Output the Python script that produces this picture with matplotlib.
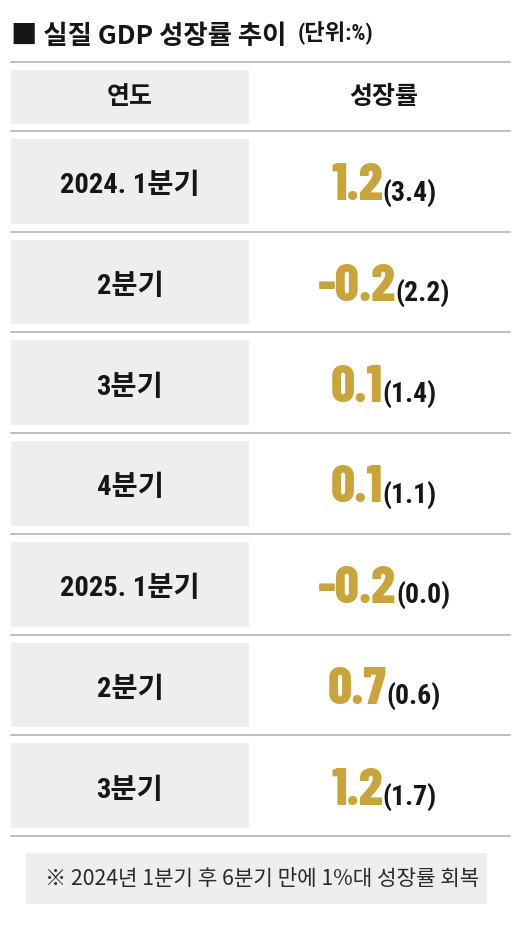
import matplotlib
matplotlib.use("Agg")
import matplotlib.pyplot as plt

# data
title = "■ 실질 GDP 성장률 추이"
unit = "(단위:%)"
col_headers = ["연도", "성장률"]
periods = ["2024. 1분기", "2분기", "3분기", "4분기", "2025. 1분기", "2분기", "3분기"]
qoq = ["1.2", "-0.2", "0.1", "0.1", "-0.2", "0.7", "1.2"]      # 전기 대비
yoy = ["3.4", "2.2", "1.4", "1.1", "0.0", "0.6", "1.7"]        # 괄호 안
note = "※ 2024년 1분기 후 6분기 만에 1%대 성장률 회복"

kr = "Noto Sans CJK KR"
num_fam = ["Roboto Condensed", kr, "DejaVu Sans"]
big_fam = ["Barlow Condensed", "Roboto Condensed", "DejaVu Sans"]

gold = "#C8A43B"
ink = "#161616"
box_c = "#EDEEED"
line_c = "#AEAEAE"

fig = plt.figure(figsize=(5.3, 9.28), dpi=100)
ax = fig.add_axes([0, 0, 1, 1])
ax.set_xlim(0, 530)
ax.set_ylim(928, 0)
ax.axis("off")

# layout
left, right = 11, 510
box_r = 249
col1 = (left + box_r) / 2
col2 = 384
top_line = 63
head_line = 132
row_h = 100.7

# title
t = ax.text(11, 36, title, fontsize=19, fontweight="bold", family=kr,
            color=ink, ha="left", va="center")
ax.annotate(unit, xy=(1, 0), xycoords=t, xytext=(8, 3), textcoords="offset points",
            fontsize=16, fontweight="bold", family=num_fam, color=ink,
            ha="left", va="bottom")

# header
ax.plot([left, right], [top_line, top_line], color=line_c, lw=1.1)
ax.add_patch(plt.Rectangle((left, top_line + 8), box_r - left, head_line - top_line - 15,
                           color=box_c, lw=0))
ax.text(col1, 97, col_headers[0], fontsize=18, fontweight="bold", family=kr,
        color=ink, ha="center", va="center")
ax.text(col2, 97, col_headers[1], fontsize=18, fontweight="bold", family=kr,
        color=ink, ha="center", va="center")
ax.plot([left, right], [head_line, head_line], color=line_c, lw=1.1)

pairs = []
for i, (p, a, b) in enumerate(zip(periods, qoq, yoy)):
    y0 = head_line + i * row_h
    y1 = y0 + row_h
    cy = (y0 + y1) / 2
    ax.add_patch(plt.Rectangle((left, y0 + 8), box_r - left, row_h - 16,
                               color=box_c, lw=0))
    ax.plot([left, right], [y1, y1], color=line_c, lw=1.1)
    ax.text(col1, cy + 11, p, fontsize=20.5, fontweight=800, family=num_fam,
            color=ink, ha="center", va="baseline")
    g = ax.text(col2, cy + 18, a, fontsize=38, fontweight=800, family=big_fam,
                color=gold, ha="left", va="baseline")
    q = ax.text(col2, cy + 18, "(" + b + ")", fontsize=20, fontweight="bold",
                family=num_fam, color=ink, ha="left", va="baseline")
    pairs.append((g, q))

# footnote
note_top = 854
note_bot = 905
ax.add_patch(plt.Rectangle((26, note_top), 487 - 26, note_bot - note_top,
                           color=box_c, lw=0))
ax.text(262, (note_top + note_bot) / 2, note, fontsize=15.3, family=kr,
        color="#2a2a2a", ha="center", va="center")

# center gold value + bracket together
fig.canvas.draw()
r = fig.canvas.get_renderer()
for g, q in pairs:
    w1 = g.get_window_extent(r).width
    w2 = q.get_window_extent(r).width
    x0 = col2 - (w1 + w2) / 2
    g.set_x(x0)
    q.set_x(x0 + w1)

fig.savefig("out.png", dpi=100, facecolor="white")
